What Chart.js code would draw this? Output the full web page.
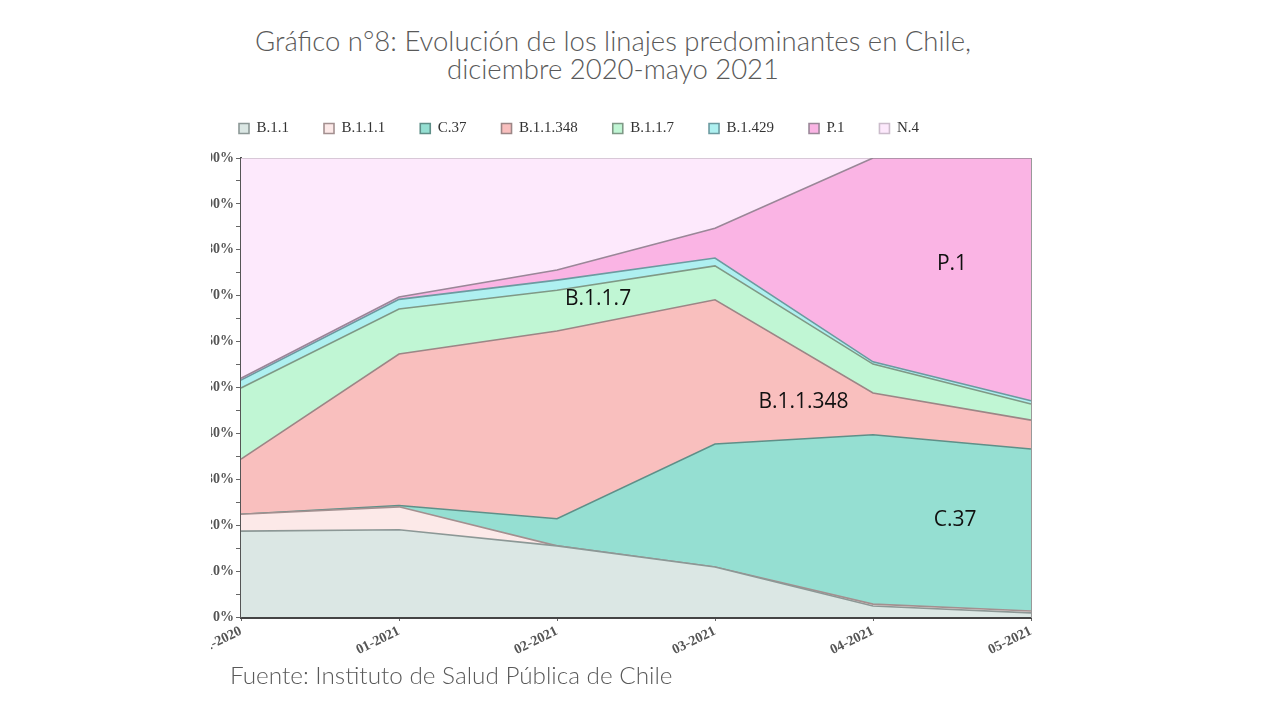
<!DOCTYPE html>
<html>
<head>
<meta charset="utf-8">
<script src="https://cdn.jsdelivr.net/npm/chart.js@4/dist/chart.umd.min.js"></script>
<style>
  body { margin: 0; background: #fff; width: 1280px; height: 720px; position: relative; overflow: hidden; }
  #title { position: absolute; left: 113px; top: 27px; width: 1000px; text-align: center;
           font-family: Lato, "Open Sans", sans-serif; font-weight: 300; font-size: 27.5px; line-height: 28px; color: #595959; }
  #clip { position: absolute; left: 211px; top: 86px; width: 846px; height: 584px; overflow: hidden; }
  #wrap { position: absolute; left: -7px; top: 0; width: 846px; height: 584px; }
  #source { position: absolute; left: 230px; top: 660px; font-family: Lato, "Open Sans", sans-serif;
            font-weight: 300; font-size: 24.3px; color: #595959; }
</style>
</head>
<body>
<div id="title">Gráfico n°8: Evolución de los linajes predominantes en Chile,<br>diciembre 2020-mayo 2021</div>
<div id="clip"><div id="wrap"><canvas id="chart"></canvas></div></div>
<div id="source">Fuente: Instituto de Salud Pública de Chile</div>
<script>
// months on the x axis
var months = ['12-2020', '01-2021', '02-2021', '03-2021', '04-2021', '05-2021'];

// share of each lineage (%)
var b11    = [18.7, 19.0, 15.5, 10.9, 2.4, 0.9];
var b111   = [3.7, 5.0, 0.0, 0.0, 0.4, 0.4];
var c37    = [0.0, 0.3, 5.9, 26.8, 36.9, 35.3];
var b11348 = [12.0, 33.0, 40.9, 31.4, 9.1, 6.3];
var b117   = [15.5, 9.8, 8.9, 7.4, 6.3, 3.5];
var b1429  = [1.7, 2.1, 2.2, 1.7, 0.5, 0.7];
var p1     = [0.4, 0.5, 2.2, 6.5, 44.4, 52.9];
var n4     = [48.0, 30.3, 24.4, 15.3, 0.0, 0.0];

// text written inside the areas (x = month index, y = %)
var areaLabels = ['P.1', 'B.1.1.7', 'B.1.1.348', 'C.37'];
var areaLabelX = [4.5, 2.26, 3.56, 4.52];
var areaLabelY = [76.9, 69.3, 46.8, 21.1];

function area(label, data, fill, stroke, i) {
    return {
        label: label,
        data: data,
        backgroundColor: fill,
        borderColor: stroke,
        borderWidth: 1.6,
        fill: i === 0 ? 'origin' : '-1',
        pointRadius: 0,
        tension: 0
    };
}

var legendGap = {
    id: 'legendGap',
    beforeInit: function (chart) {
        var fit = chart.legend.fit;
        chart.legend.fit = function () {
            fit.call(this);
            this.height = 72;
        };
    }
};

var areaText = {
    id: 'areaText',
    afterDatasetsDraw: function (chart) {
        var ctx = chart.ctx;
        var x = chart.scales.x, y = chart.scales.y;
        ctx.save();
        ctx.font = '21px "Open Sans", "Noto Sans", sans-serif';
        ctx.fillStyle = '#111';
        ctx.textAlign = 'center';
        ctx.textBaseline = 'middle';
        areaLabels.forEach(function (t, i) {
            ctx.fillText(t, x.getPixelForValue(areaLabelX[i]), y.getPixelForValue(areaLabelY[i]));
        });
        ctx.restore();
    }
};

var tickFont = { family: '"Liberation Serif", "Times New Roman", serif', size: 14, weight: 'bold' };

new Chart(document.getElementById('chart'), {
    type: 'line',
    data: {
        labels: months,
        datasets: [
            area('B.1.1', b11, '#dbe7e4', '#8c9896', 0),
            area('B.1.1.1', b111, '#fce9e8', '#a39090', 1),
            area('C.37', c37, '#95dfd2', '#5f8f88', 2),
            area('B.1.1.348', b11348, '#f9bfbe', '#9c8686', 3),
            area('B.1.1.7', b117, '#c0f6d4', '#7f9986', 4),
            area('B.1.429', b1429, '#aef0f0', '#6c9aa0', 5),
            area('P.1', p1, '#fab4e4', '#9a8798', 6),
            area('N.4', n4, '#fde9fc', '#cbbccb', 7)
        ]
    },
    options: {
        responsive: true,
        maintainAspectRatio: false,
        animation: false,
        layout: { padding: { right: 19 } },
        plugins: {
            title: { display: false },
            tooltip: { enabled: false },
            legend: {
                position: 'top',
                align: 'start',
                labels: {
                    boxWidth: 10,
                    boxHeight: 10,
                    padding: 35,
                    color: '#333',
                    font: { family: '"Liberation Serif", "Times New Roman", serif', size: 15 }
                }
            }
        },
        scales: {
            x: {
                offset: false,
                grid: { display: true, drawOnChartArea: false, tickLength: 4, color: '#666' },
                border: { color: '#444', width: 3 },
                ticks: { color: '#555', font: tickFont, minRotation: 26, maxRotation: 26, padding: 2 },
                afterFit: function (s) {
                    s.paddingLeft = 0;
                    s.paddingRight = 0;
                    s.height = 53;
                }
            },
            y: {
                stacked: true,
                min: 0,
                max: 100,
                grid: { display: true, drawOnChartArea: false, tickLength: 5, color: '#666' },
                border: { color: '#555', width: 2 },
                ticks: {
                    stepSize: 5,
                    autoSkip: false,
                    color: '#555',
                    font: tickFont,
                    padding: 2,
                    callback: function (v) { return v % 10 === 0 ? v + '%' : ''; }
                },
                afterFit: function (s) { s.width = 37; }
            },
            yr: {
                position: 'right',
                min: 0,
                max: 100,
                grid: { display: false },
                ticks: { display: false },
                border: { color: '#999', width: 1 },
                afterFit: function (s) { s.width = 0; }
            }
        }
    },
    plugins: [legendGap, areaText]
});
</script>
</body>
</html>
